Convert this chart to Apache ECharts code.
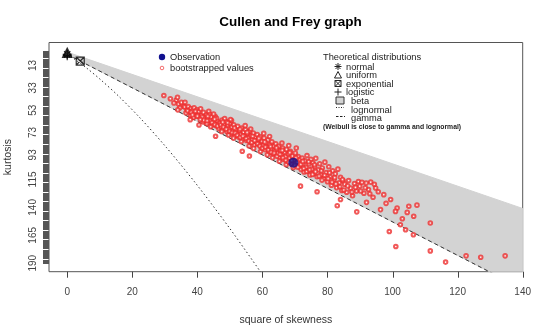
<!DOCTYPE html>
<html>
<head>
<meta charset="utf-8">
<script src="https://cdn.jsdelivr.net/npm/echarts@6/dist/echarts.min.js"></script>
<style>
  html, body { margin: 0; padding: 0; background: #fff; }
  #chart { width: 540px; height: 331px; }
</style>
</head>
<body>
<div id="chart"></div>
<script>
// axis ticks
const xTicks = [0, 20, 40, 60, 80, 100, 120, 140]
const yTickLabels = [13, 33, 53, 73, 93, 115, 140, 165, 190]
const kurtMax = 190
const yMin = -7.6
const yMax = 197.6

// observation [square of skewness, kurtosis]
const observation = [[69.5, 100]]

// theoretical distributions
const normalPt = [[0, 3]]
const uniformPt = [[0, 1.8]]
const exponentialPt = [[4, 9]]
const logisticPt = [[0, 4.2]]
const betaUpper = [[0, 1], [140, 141]]
const betaLower = [[0, 3], [140, 213]]
const gammaLine = [[0, 3], [140, 213]]
const lognormalLine = [[0, 3], [2.05, 6.85], [6.1, 15.6], [10.5, 26.3], [16, 41], [22.6, 60.6],
  [30.4, 86.1], [39.5, 118.5], [50, 159], [59.5, 198.1]]

// bootstrapped values
const bootValues = [
  [29.7, 39.8], [31.7, 42.7], [33.5, 44], [34.2, 47.5], [35.1, 46], [32.8, 46.5], [35.8, 49.5], [34.6, 50.8], [36.2, 45.9], [33.9, 41.5], [34, 52.7],
  [36.1, 50.2], [36.8, 52.9], [37.2, 49.8], [37.5, 54.1], [38.0, 51.5], [38.3, 56.2], [38.6, 53.0], [39.0, 50.9], [39.2, 55.8], [39.5, 58.1],
  [39.9, 52.7], [40.2, 56.9], [36.5, 55.4], [37.9, 57.8], [38.8, 59.6], [40.4, 54.2], [40.7, 59.0], [41.0, 51.8], [40.5, 66.2], [37.8, 61.5],
  [41.3, 57.5], [41.6, 61.2], [41.9, 55.0], [42.2, 59.4], [42.5, 62.9], [42.8, 57.1], [43.1, 60.6], [43.4, 64.3], [43.7, 56.3], [44.0, 62.0],
  [44.3, 59.2], [44.6, 66.1], [44.9, 61.5], [45.2, 63.8], [45.5, 58.7], [45.8, 67.0], [46.1, 62.4], [46.4, 65.5], [41.8, 63.6], [42.9, 65.0],
  [43.5, 53.9], [44.1, 67.8], [45.0, 56.4], [45.9, 60.2], [46.6, 69.4], [45.6, 76.3],
  [47.0, 64.2], [47.3, 67.9], [47.6, 61.8], [47.9, 70.3], [48.2, 65.6], [48.5, 68.9], [48.8, 63.0], [49.1, 72.1], [49.4, 66.7], [49.7, 69.8],
  [50.0, 64.9], [50.3, 74.0], [50.6, 68.2], [50.9, 71.5], [51.2, 66.0], [51.5, 76.4], [51.8, 70.1], [52.1, 73.6], [47.5, 72.0], [48.4, 60.5],
  [49.6, 75.2], [50.5, 62.3], [51.1, 78.0], [52.4, 67.5], [52.7, 77.1], [50.2, 61.3],
  [53.0, 71.3], [53.3, 74.8], [53.6, 68.9], [53.9, 78.5], [54.2, 72.6], [54.5, 76.0], [54.8, 70.4], [55.1, 80.2], [55.4, 74.1], [55.7, 77.7],
  [56.0, 71.9], [56.3, 82.0], [56.6, 75.8], [56.9, 79.3], [57.2, 73.5], [57.5, 84.1], [57.8, 77.0], [58.1, 81.2], [53.5, 81.0], [54.7, 66.8],
  [55.9, 85.0], [56.4, 69.9], [57.3, 87.2], [58.4, 74.9], [53.8, 89.8], [56.0, 94.0],
  [58.7, 79.4], [59.0, 83.6], [59.3, 76.9], [59.6, 86.0], [59.9, 80.8], [60.2, 84.5], [60.5, 78.0], [60.8, 88.3], [61.1, 82.2], [61.4, 85.9],
  [61.7, 79.6], [62.0, 90.1], [62.3, 83.9], [62.6, 87.5], [62.9, 81.3], [63.2, 92.4], [63.5, 85.0], [63.8, 89.2], [59.4, 90.0], [60.4, 73.8],
  [61.5, 93.0], [62.2, 76.5], [63.1, 95.6], [64.1, 83.0],
  [64.4, 88.0], [64.7, 91.6], [65.0, 85.3], [65.3, 95.0], [65.6, 89.4], [65.9, 93.1], [66.2, 86.8], [66.5, 97.2], [66.8, 90.7], [67.1, 94.6],
  [67.4, 88.1], [67.7, 99.3], [68.0, 92.2], [68.3, 96.0], [68.6, 89.9], [68.9, 101.0], [69.2, 94.0], [69.8, 97.5], [70.1, 91.3], [65.2, 98.7],
  [66.0, 82.4], [67.3, 101.8], [68.1, 84.7], [69.5, 104.2], [70.4, 86.9],
  [70.7, 99.6], [71.0, 94.5], [71.3, 103.0], [71.6, 97.2], [71.9, 106.0], [72.2, 95.8], [72.5, 100.7], [72.8, 108.3], [73.1, 98.4], [73.4, 104.1],
  [73.7, 93.6], [74.0, 107.5], [74.3, 101.2], [74.6, 111.0], [74.9, 97.0], [75.2, 105.8], [75.5, 100.0], [75.8, 109.9], [76.1, 103.3], [76.4, 96.1],
  [76.8, 112.6], [71.7, 121.0], [76.8, 126.0],
  [77.2, 106.4], [77.6, 101.0], [78.0, 110.8], [78.4, 104.7], [78.8, 114.2], [79.2, 99.5], [79.6, 108.9], [80.0, 117.0], [80.4, 103.6], [80.8, 112.4],
  [81.2, 120.1], [81.6, 107.3], [82.0, 115.5], [82.4, 110.0], [82.8, 122.3], [83.2, 105.8], [83.6, 118.0], [84.0, 113.1], [84.4, 124.8], [84.8, 116.3],
  [83.0, 138.5], [84.0, 133.0],
  [85.3, 119.2], [85.9, 126.5], [86.5, 115.9], [87.1, 122.8], [87.7, 129.6], [88.3, 118.7], [88.9, 125.4], [89.5, 116.8], [89.9, 121.0], [90.6, 117.6],
  [91.2, 127.3], [91.9, 118.2], [92.6, 124.0], [93.3, 117.4], [94.0, 130.9], [94.8, 122.6], [89.0, 144.0], [92.0, 135.5],
  [96.3, 142.0], [97.3, 128.6], [99.4, 133.0], [101.4, 140.6], [100.9, 143.6], [105.0, 139.0], [107.5, 138.0], [106.5, 148.0], [104.5, 144.5],
  [99.0, 161.6], [101.0, 175.0], [102.4, 155.5], [104.0, 160.0], [106.4, 164.5], [111.6, 154.0], [111.6, 179.0], [116.3, 189.0],
  [122.6, 183.4], [127.1, 184.6], [134.6, 183.4], [98.0, 136.4], [103.0, 150.2],
  [37.0, 53.5], [38.1, 55.0], [39.4, 54.0], [40.0, 58.3], [41.5, 59.1], [42.0, 61.9], [43.0, 62.5], [44.5, 64.0], [45.4, 65.9], [46.2, 67.2],
  [47.2, 66.1], [48.0, 68.0], [48.9, 70.0], [49.9, 71.9], [50.7, 73.0], [51.6, 73.4], [52.3, 75.5], [53.2, 77.3], [54.0, 76.2], [55.0, 78.4],
  [55.8, 80.6], [56.7, 81.9], [57.6, 80.2], [58.5, 83.0], [59.2, 85.1], [60.0, 87.1], [60.9, 86.0], [61.8, 88.4], [62.7, 90.6], [63.6, 91.3],
  [64.5, 94.2], [65.4, 92.5], [66.3, 95.6], [67.2, 97.8], [68.2, 99.6], [69.0, 98.1], [70.0, 102.3], [70.9, 104.0], [71.8, 101.5], [72.7, 105.2],
  [73.6, 107.9], [74.5, 106.3], [75.4, 110.5], [76.3, 108.0], [77.4, 112.0], [78.3, 115.6], [79.1, 111.2], [80.2, 114.3], [81.4, 117.4], [82.6, 119.0],
  [83.8, 121.5], [85.0, 124.4], [86.2, 120.8], [87.5, 126.2], [88.6, 122.1], [90.2, 125.3], [91.6, 122.5], [93.0, 127.8], [94.4, 119.3], [95.6, 126.0],
  [38.5, 57.2], [40.9, 61.4], [43.2, 58.4], [45.3, 61.0], [47.8, 63.7], [49.3, 64.2], [51.4, 69.0], [53.1, 70.0], [55.3, 72.9], [57.0, 76.4],
  [58.9, 78.2], [60.7, 81.4], [62.5, 85.5], [64.3, 86.6], [66.1, 89.0], [68.4, 91.0], [70.3, 95.6], [72.4, 98.8], [74.2, 99.1], [76.0, 101.8],
  [78.1, 107.2], [80.6, 109.0], [82.2, 113.4], [84.6, 115.0]
]

const FONT = '"Liberation Sans", Arial, sans-serif'
const yTicks = Array.from({length: kurtMax + 1}, (_, i) => i)

const asteriskPath = 'path://M5,0L5,10M0,5L10,5M1.5,1.5L8.5,8.5M1.5,8.5L8.5,1.5'
const squareXPath = 'path://M0,0L10,0L10,10L0,10ZM0,0L10,10M10,0L0,10'
const plusPath = 'path://M5,0L5,10M0,5L10,5'

const markStyle = {color: 'rgba(0,0,0,0)', borderColor: '#000', borderWidth: 1.2}

const echart = echarts.init(document.getElementById('chart'))

const legendText = (x, y, text, size, weight) => ({
  type: 'text', x: x, y: y,
  style: {text: text, fill: '#222', font: `${weight || 'normal'} ${size}px ${FONT}`, verticalAlign: 'middle'}
})
const seg = (x1, y1, x2, y2, dash) => ({
  type: 'line', shape: {x1: x1, y1: y1, x2: x2, y2: y2},
  style: {stroke: '#222', lineWidth: 1, lineDash: dash || null}
})

const legendGraphics = [
  {type: 'circle', shape: {cx: 162, cy: 57, r: 3.2}, style: {fill: '#10108f'}},
  {type: 'circle', shape: {cx: 162, cy: 68, r: 1.8}, style: {fill: '#fff', stroke: '#ee3030', lineWidth: 0.7}},
  legendText(170, 57, 'Observation', 9.3),
  legendText(170, 68, 'bootstrapped values', 9.3),
  legendText(323, 57, 'Theoretical distributions', 9.3),
  // normal (asterisk)
  seg(338, 63, 338, 70), seg(334.5, 66.5, 341.5, 66.5), seg(335.5, 64, 340.5, 69), seg(335.5, 69, 340.5, 64),
  // uniform (triangle)
  {type: 'polygon', shape: {points: [[338, 71.5], [341.5, 78], [334.5, 78]]}, style: {fill: null, stroke: '#222', lineWidth: 1}},
  // exponential (square with cross)
  {type: 'rect', shape: {x: 335, y: 80.5, width: 6, height: 6}, style: {fill: null, stroke: '#222', lineWidth: 1}},
  seg(335, 80.5, 341, 86.5), seg(341, 80.5, 335, 86.5),
  // logistic (plus)
  seg(338, 88.5, 338, 95.5), seg(334.5, 92, 341.5, 92),
  // beta, lognormal, gamma
  {type: 'rect', shape: {x: 336, y: 97, width: 8, height: 7}, style: {fill: '#d3d3d3', stroke: '#333', lineWidth: 1}},
  seg(336, 107.5, 344, 107.5, [1, 1.5]),
  seg(336, 116.5, 345, 116.5, [2.5, 1.5]),
  legendText(346, 67, 'normal', 9.3),
  legendText(346, 75.5, 'uniform', 9.3),
  legendText(346, 84, 'exponential', 9.3),
  legendText(346, 92.5, 'logistic', 9.3),
  legendText(351, 101.5, 'beta', 9.3),
  legendText(351, 110, 'lognormal', 9.3),
  legendText(351, 118.5, 'gamma', 9.3),
  legendText(323, 127.5, '(Weibull is close to gamma and lognormal)', 6.8, 'bold')
]

echart.setOption({
  animation: false,
  title: {
    text: 'Cullen and Frey graph',
    left: 285.5, top: 10, textAlign: 'center',
    textStyle: {fontFamily: FONT, fontSize: 13.5, fontWeight: 'bold', color: '#000'}
  },
  grid: {
    left: 49, right: 17.3, top: 42.5, bottom: 59.3,
    show: true, borderColor: '#555', borderWidth: 1,
    outerBoundsMode: 'none'
  },
  xAxis: {
    type: 'value', min: -5.6, max: 140, position: 'bottom',
    name: 'square of skewness', nameLocation: 'middle', nameGap: 43,
    nameTextStyle: {fontFamily: FONT, fontSize: 10.5, color: '#333'},
    axisLine: {show: false, onZero: false},
    splitLine: {show: false},
    axisTick: {show: false},
    axisLabel: {customValues: xTicks, margin: 16, fontFamily: FONT, fontSize: 10, color: '#444'}
  },
  yAxis: {
    type: 'value', min: yMin, max: yMax, inverse: true, position: 'left',
    name: 'kurtosis', nameLocation: 'middle', nameGap: 35, nameRotate: 90,
    nameTextStyle: {fontFamily: FONT, fontSize: 10.5, color: '#333'},
    axisLine: {show: false, onZero: false},
    splitLine: {show: false},
    axisTick: {show: true, customValues: yTicks, length: 6, lineStyle: {color: '#555'}},
    axisLabel: {customValues: yTickLabels, rotate: 90, margin: 11, fontFamily: FONT, fontSize: 10, color: '#444'}
  },
  series: [
    {
      type: 'custom', name: 'beta', clip: true, z: 1, silent: true,
      data: [[0, 0]],
      renderItem: (params, api) => {
        const pts = betaUpper.map(p => api.coord(p))
          .concat(betaLower.slice().reverse().map(p => api.coord(p)))
        return {type: 'polygon', shape: {points: pts}, style: {fill: '#d3d3d3', stroke: '#d3d3d3'}}
      }
    },
    {
      type: 'line', name: 'lognormal', data: lognormalLine, smooth: 0.3, showSymbol: false, clip: true, z: 2,
      lineStyle: {color: '#333', width: 1, type: [1.5, 2.5]}
    },
    {
      type: 'line', name: 'gamma', data: gammaLine, showSymbol: false, clip: true, z: 2,
      lineStyle: {color: '#333', width: 1, type: [4, 3]}
    },
    {
      type: 'scatter', name: 'bootstrapped values', data: bootValues, symbol: 'emptyCircle', symbolSize: 3.6, z: 3,
      itemStyle: {color: '#ee3030', borderWidth: 0.7}
    },
    {
      type: 'scatter', name: 'Observation', data: observation, symbol: 'circle', symbolSize: 10, z: 4,
      itemStyle: {color: '#10108f'}
    },
    {type: 'scatter', name: 'uniform', data: uniformPt, symbol: 'emptyTriangle', symbolSize: 8, z: 5, itemStyle: {color: '#000', borderWidth: 1.2}},
    {type: 'scatter', name: 'normal', data: normalPt, symbol: asteriskPath, symbolSize: 9, z: 5, itemStyle: markStyle},
    {type: 'scatter', name: 'logistic', data: logisticPt, symbol: plusPath, symbolSize: 9, z: 5, itemStyle: markStyle},
    {type: 'scatter', name: 'exponential', data: exponentialPt, symbol: squareXPath, symbolSize: 8, z: 5, itemStyle: markStyle}
  ],
  graphic: legendGraphics
})

// x axis tick marks under the plot box, placed through the axis scale
const yBottom = echart.convertToPixel({yAxisIndex: 0}, yMax)
const tickGraphics = xTicks.map(v => {
  const x = Math.round(echart.convertToPixel({xAxisIndex: 0}, v)) + 0.5
  return {type: 'line', z: 50, shape: {x1: x, y1: yBottom, x2: x, y2: yBottom + 6}, style: {stroke: '#444', lineWidth: 1}}
})
echart.setOption({graphic: legendGraphics.concat(tickGraphics)})
</script>
</body>
</html>
